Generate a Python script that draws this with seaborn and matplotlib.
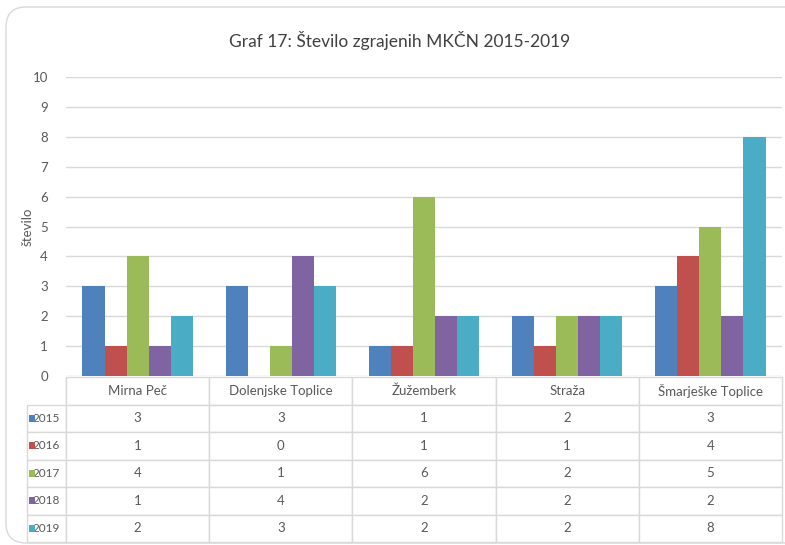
import numpy as np
import pandas as pd
import matplotlib
matplotlib.use('Agg')
import matplotlib.pyplot as plt
from matplotlib.patches import FancyBboxPatch, Rectangle
import seaborn as sns

# data
categories = ['Mirna Peč', 'Dolenjske Toplice', 'Žužemberk', 'Straža', 'Šmarješke Toplice']
years = ['2015', '2016', '2017', '2018', '2019']
v2015 = [3, 3, 1, 2, 3]
v2016 = [1, 0, 1, 1, 4]
v2017 = [4, 1, 6, 2, 5]
v2018 = [1, 4, 2, 2, 2]
v2019 = [2, 3, 2, 2, 8]
colors = ['#4F81BD', '#C0504D', '#9BBB59', '#8064A2', '#4BACC6']

all_values = [v2015, v2016, v2017, v2018, v2019]
rows = []
for yr, vals in zip(years, all_values):
  for cat, v in zip(categories, vals):
    rows.append({'občina': cat, 'leto': yr, 'število': v})
df = pd.DataFrame(rows)

sns.set_theme(style='white')
plt.rcParams['font.family'] = ['Lato', 'DejaVu Sans']
txt_col = '#595959'
grid_col = '#D9D9D9'

fig = plt.figure(figsize=(7.85, 5.45), dpi=100)
# rounded chart frame (right side runs off the image like the screenshot)
frame = FancyBboxPatch((0.06, 0.02), 8.2, 5.36, boxstyle='round,pad=0,rounding_size=0.2',
                       transform=fig.dpi_scale_trans, facecolor='white', edgecolor=grid_col,
                       linewidth=1.0, zorder=-5)
fig.patches.append(frame)

ax = fig.add_axes([66/785, (545-376)/545, (782-66)/785, (376-77)/545])
ax.set_facecolor('none')
sns.barplot(data=df, x='občina', y='število', hue='leto', palette=colors, saturation=1,
            width=0.77, linewidth=0, legend=False, ax=ax, zorder=3)
ax.set_ylim(0, 10)
ax.set_xlim(-0.5, 4.5)
ax.set_yticks(range(0, 11))
ax.yaxis.grid(True, color=grid_col, linewidth=1, zorder=0)
ax.set_axisbelow(True)
for s in ax.spines.values():
  s.set_visible(False)
ax.set_xticks([])
ax.set_xlabel('')
ax.tick_params(axis='y', length=0, labelsize=9.5, labelcolor=txt_col, pad=13)
ax.set_ylabel('število', fontsize=9.5, color=txt_col)
ax.yaxis.set_label_coords(-0.046, 0.5)

fig.text(400/785, 1 - 40/545, 'Graf 17: Število zgrajenih MKČN 2015-2019',
         ha='center', va='center', fontsize=12.5, color='#404040')

# data table under the plot
cell_text = [[''] + categories]
for yr, vals in zip(years, all_values):
  cell_text.append([yr] + [str(v) for v in vals])
tab_left = (27 - 66) / 716
tab_w = (782 - 27) / 716
tab_top = -1 / 299
tab_h = (542 - 377) / 299
first_w = 39 / 755
col_w = [first_w] + [(1 - first_w) / 5] * 5
table = ax.table(cellText=cell_text, cellLoc='center', colWidths=col_w,
                 bbox=[tab_left, tab_top - tab_h, tab_w, tab_h])
table.auto_set_font_size(False)
for (r, c), cell in table.get_celld().items():
  cell.set_edgecolor(grid_col)
  cell.set_linewidth(1)
  cell.set_text_props(color=txt_col, fontsize=9.5)
  if r == 0 and c == 0:
    cell.visible_edges = 'R'
  if c == 0 and r > 0:
    cell._loc = 'right'
    cell.PAD = 0.02
    cell.set_text_props(fontsize=8.5)

# colored legend keys in the row labels
row_h = tab_h / 6
sq_w = 6 / 716
sq_h = 7 / 299
for i, col in enumerate(colors):
  yc = tab_top - (i + 1.5) * row_h
  ax.add_patch(Rectangle(((29 - 66) / 716, yc - sq_h / 2), sq_w, sq_h, transform=ax.transAxes,
                         facecolor=col, edgecolor='none', clip_on=False, zorder=5))

fig.savefig('out.png', dpi=100)
